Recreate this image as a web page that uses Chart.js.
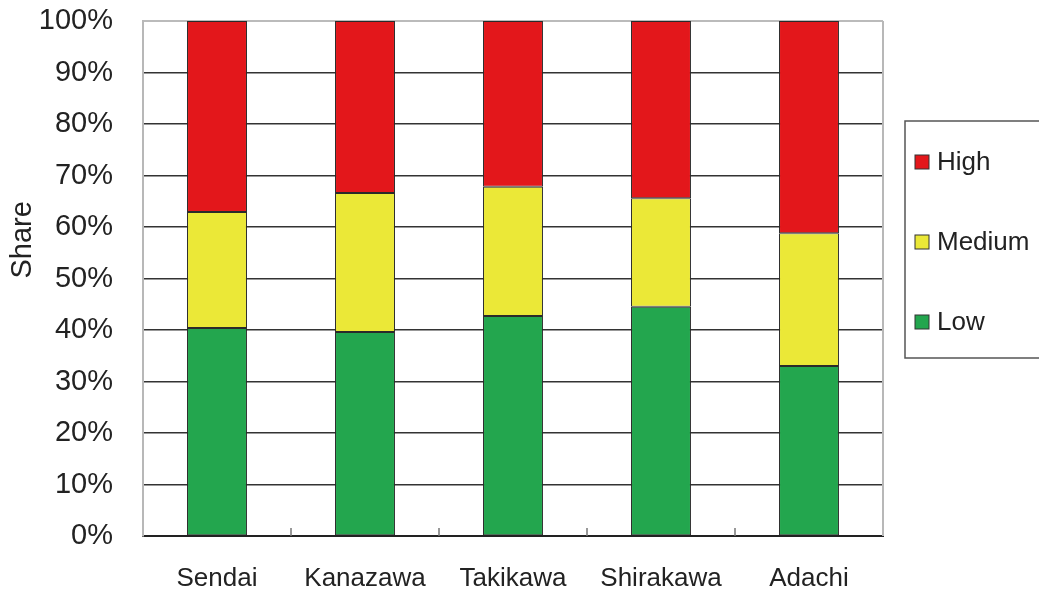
<!DOCTYPE html>
<html>
<head>
<meta charset="utf-8">
<script src="https://cdn.jsdelivr.net/npm/chart.js@4.4.0/dist/chart.umd.min.js"></script>
<style>
  html, body { margin: 0; padding: 0; background: #fff; }
  #wrap { width: 1039px; height: 595px; position: relative; }
</style>
</head>
<body>
<div id="wrap"><canvas id="chart"></canvas></div>
<script>
// data (percent of each city)
const cities = ["Sendai", "Kanazawa", "Takikawa", "Shirakawa", "Adachi"];
const lowShare = [40.4, 39.6, 42.7, 44.5, 33.0];
const mediumShare = [22.5, 27.0, 25.1, 21.1, 25.8];
const highShare = [37.1, 33.4, 32.2, 34.4, 41.2];
const yTicks = [0, 10, 20, 30, 40, 50, 60, 70, 80, 90, 100];
const yTitle = "Share";

const FONT = "'Liberation Sans', Arial, Helvetica, sans-serif";
const TEXT = "#222";

// plot frame: right border, small upward ticks between categories, axis title
const framePlugin = {
  id: "frame",
  afterDatasetsDraw(chart) {
    const { ctx, chartArea, scales } = chart;
    const x = scales.x;
    ctx.save();
    ctx.strokeStyle = "#b8b8b8";
    ctx.lineWidth = 2;
    ctx.beginPath();
    ctx.moveTo(chartArea.right, chartArea.top);
    ctx.lineTo(chartArea.right, chartArea.bottom);
    ctx.stroke();
    ctx.strokeStyle = "#777";
    ctx.lineWidth = 1.5;
    for (let i = 1; i < cities.length; i++) {
      const px = (x.getPixelForValue(i - 1) + x.getPixelForValue(i)) / 2;
      ctx.beginPath();
      ctx.moveTo(px, chartArea.bottom);
      ctx.lineTo(px, chartArea.bottom - 8);
      ctx.stroke();
    }
    // y axis title, sits a bit above the middle like the original
    ctx.translate(23, chartArea.top + (chartArea.bottom - chartArea.top) * 0.425);
    ctx.rotate(-Math.PI / 2);
    ctx.font = "29px " + FONT;
    ctx.fillStyle = TEXT;
    ctx.textAlign = "center";
    ctx.textBaseline = "middle";
    ctx.fillText(yTitle, 0, 0);
    ctx.restore();
  },
};

// boxed legend to the right of the plot, High on top
const boxLegend = {
  id: "boxLegend",
  afterDraw(chart) {
    const { ctx, chartArea } = chart;
    const left = chartArea.right + 22;
    const top = 121;
    const bottom = 358;
    ctx.save();
    ctx.strokeStyle = "#555";
    ctx.lineWidth = 1.5;
    ctx.strokeRect(left, top, 200, bottom - top);
    const items = chart.data.datasets.slice().reverse();
    ctx.font = "26px " + FONT;
    ctx.textBaseline = "middle";
    items.forEach((ds, i) => {
      const cy = top + 41 + i * 80;
      ctx.fillStyle = ds.backgroundColor;
      ctx.fillRect(left + 10, cy - 7, 14, 14);
      ctx.strokeStyle = "#333";
      ctx.lineWidth = 1;
      ctx.strokeRect(left + 10, cy - 7, 14, 14);
      ctx.fillStyle = TEXT;
      ctx.fillText(ds.label, left + 32, cy + 1);
    });
    ctx.restore();
  },
};

const datasets = [
  { label: "Low", data: lowShare, backgroundColor: "#23a64e" },
  { label: "Medium", data: mediumShare, backgroundColor: "#ebe837" },
  { label: "High", data: highShare, backgroundColor: "#e3171b" },
].map((d) => ({
  ...d,
  borderColor: "#2a2a2a",
  borderWidth: 1,
  borderSkipped: false,
  barPercentage: 0.405,
  categoryPercentage: 1,
}));

new Chart(document.getElementById("chart"), {
  type: "bar",
  data: { labels: cities, datasets },
  options: {
    responsive: true,
    maintainAspectRatio: false,
    animation: false,
    layout: { padding: { left: 2, right: 156, top: 0, bottom: 1 } },
    plugins: {
      legend: { display: false },
      tooltip: { enabled: false },
    },
    scales: {
      x: {
        stacked: true,
        grid: { display: false, drawTicks: false },
        border: { display: true, color: "#222", width: 2 },
        ticks: { padding: 27, color: TEXT, font: { family: FONT, size: 26 } },
        afterFit: (scale) => {
          scale.height = 58;
        },
      },
      y: {
        stacked: true,
        min: 0,
        max: 100,
        afterBuildTicks: (scale) => {
          scale.ticks = yTicks.map((v) => ({ value: v }));
        },
        afterFit: (scale) => {
          scale.width = 141;
          scale.paddingTop = 21;
          scale.paddingBottom = 0;
        },
        grid: {
          drawTicks: false,
          color: (c) => (c.tick && c.tick.value === 100 ? "#bbbbbb" : "#333"),
          lineWidth: (c) => (c.tick && c.tick.value === 100 ? 2 : 1.5),
        },
        border: { display: true, color: "#b8b8b8", width: 2 },
        ticks: {
          padding: 30,
          color: TEXT,
          font: { family: FONT, size: 29 },
          callback: (v) => v + "%",
        },
      },
    },
  },
  plugins: [framePlugin, boxLegend],
});
</script>
</body>
</html>
